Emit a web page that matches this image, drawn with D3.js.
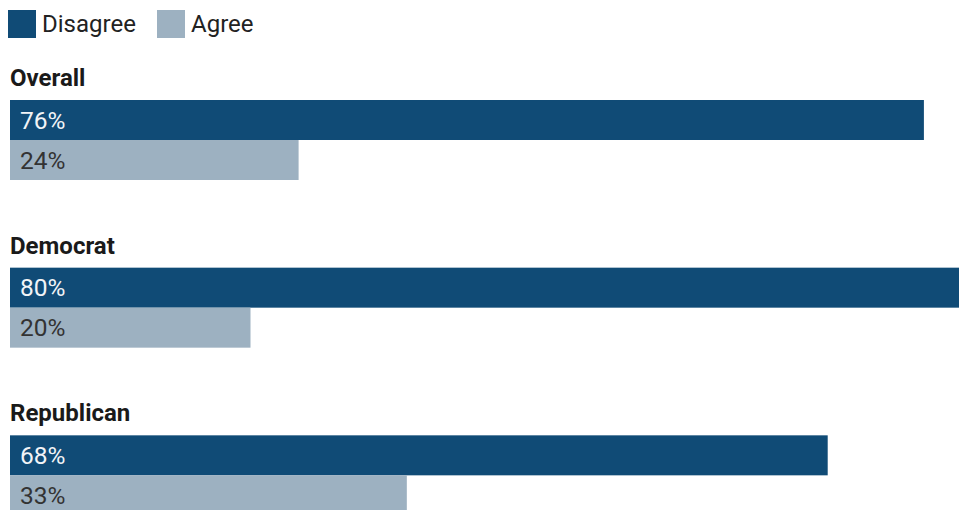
<!DOCTYPE html>
<html>
<head>
<meta charset="utf-8">
<script src="https://cdn.jsdelivr.net/npm/d3@7"></script>
<style>
  html, body { margin: 0; padding: 0; background: #fff; overflow: hidden; }
  svg { display: block; font-family: Roboto, "Noto Sans", sans-serif; }
</style>
</head>
<body>
<svg id="chart" width="959" height="510"></svg>
<script>
// Survey groups and shares (percent)
const groups = ["Overall", "Democrat", "Republican"];
const disagree = [76, 80, 68];
const agree = [24, 20, 33];
const seriesNames = ["Disagree", "Agree"];
const seriesColors = ["#104b76", "#9db1c1"];
const labelColors = ["#f2f4f7", "#333333"];

const svg = d3.select("#chart");

const x = d3.scaleLinear().domain([0, 80]).range([10, 972]);
const groupY = d3.scaleBand().domain(groups).range([0, 503]);
const rowY = d3.scaleBand().domain(seriesNames).range([0, 80]);

// Legend
const legend = svg.append("g");
const legendX = [8, 157];
seriesNames.forEach((name, i) => {
  const g = legend.append("g").attr("transform", `translate(${legendX[i]},10)`);
  g.append("rect").attr("width", 28).attr("height", 28).attr("fill", seriesColors[i]);
  g.append("text").attr("x", 34).attr("y", 22)
    .attr("font-size", 24).attr("fill", "#222").text(name);
});

const rows = groups.map((gName, i) => ({
  group: gName,
  values: [disagree[i], agree[i]]
}));

const gGroups = svg.selectAll("g.group").data(rows).join("g")
  .attr("class", "group")
  .attr("transform", d => `translate(0,${groupY(d.group) + 100})`);

gGroups.append("text")
  .attr("x", 10).attr("y", -14)
  .attr("font-size", 24).attr("font-weight", 700).attr("fill", "#1a1a1a")
  .text(d => d.group);

seriesNames.forEach((s, si) => {
  gGroups.append("rect")
    .attr("x", x(0))
    .attr("y", rowY(s))
    .attr("height", rowY.bandwidth())
    .attr("width", d => x(d.values[si]) - x(0))
    .attr("fill", seriesColors[si]);
  gGroups.append("text")
    .attr("x", x(0) + 10)
    .attr("y", rowY(s) + 28.5)
    .attr("font-size", 24.5)
    .attr("fill", labelColors[si])
    .text(d => d.values[si] + "%");
});
</script>
</body>
</html>
